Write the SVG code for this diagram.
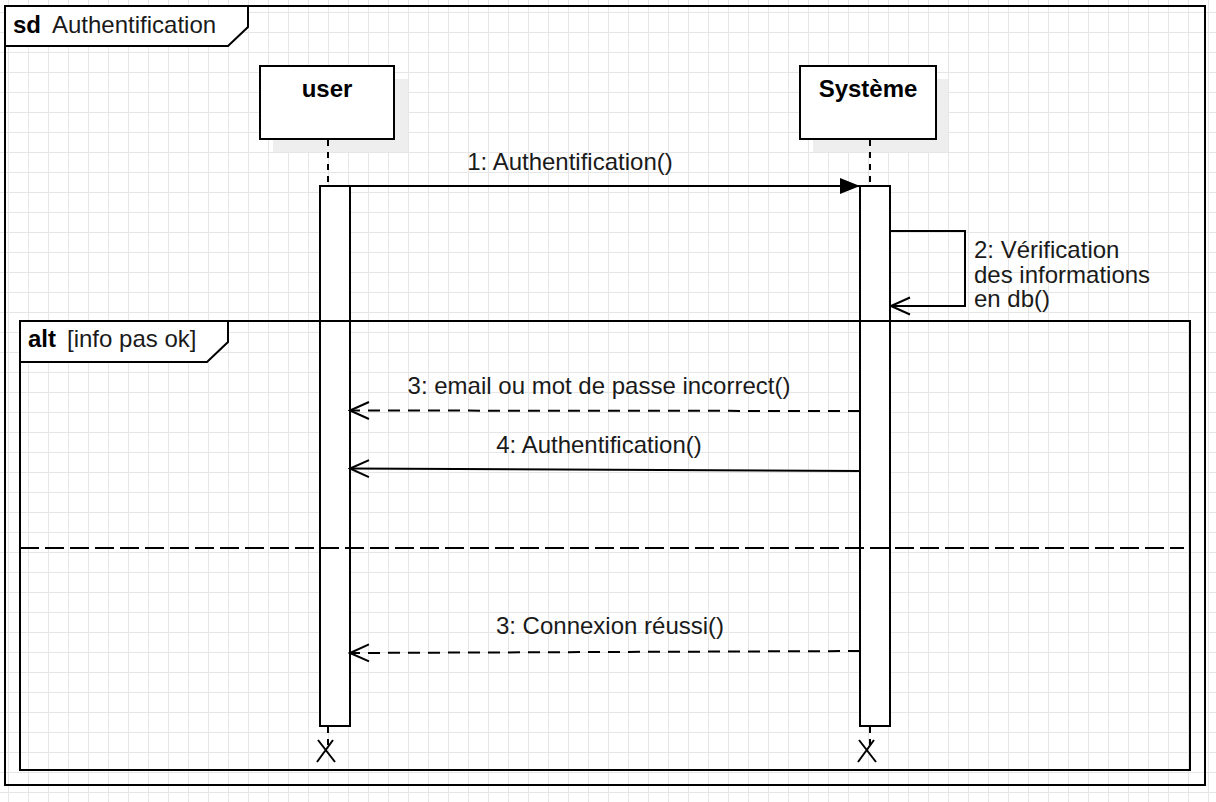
<svg xmlns="http://www.w3.org/2000/svg" width="1216" height="802" viewBox="0 0 1216 802">
  <defs>
    <pattern id="grid" x="8" y="12" width="20" height="20" patternUnits="userSpaceOnUse">
      <path d="M0.5 0 V20 M0 0.5 H20" fill="none" stroke="#e6e6e6" stroke-width="1"/>
    </pattern>
    <marker id="filled" markerWidth="20" markerHeight="16" refX="20" refY="8" orient="auto" markerUnits="userSpaceOnUse">
      <path d="M0 0 L20 8 L0 16 Z" fill="#000"/>
    </marker>
    <marker id="open" markerWidth="22" markerHeight="22" refX="20" refY="11" orient="auto" markerUnits="userSpaceOnUse">
      <path d="M1 2.5 L20 11 L1 19.5" fill="none" stroke="#000" stroke-width="2"/>
    </marker>
  </defs>
  <style>
    .frame { fill: none; stroke: #000; stroke-width: 2; }
    .tab { fill: #fff; stroke: #000; stroke-width: 2; }
    .box { fill: #fff; stroke: #000; stroke-width: 2; }
    .shadow { fill: #eeeeee; }
    .bar { fill: #fff; stroke: #000; stroke-width: 2; }
    .life { stroke: #000; stroke-width: 2; stroke-dasharray: 6 6; fill: none; }
    .msg { stroke: #000; stroke-width: 2; fill: none; }
    .ret { stroke: #000; stroke-width: 2; fill: none; stroke-dasharray: 12 8; }
    .x { stroke: #000; stroke-width: 2; fill: none; }
    .bold { font-family: "Liberation Sans", Arial, sans-serif; font-size: 24px; font-weight: bold; fill: #000; }
    .lbl { font-family: "Liberation Sans", Arial, sans-serif; font-size: 24px; fill: #1a1a1a; }
  </style>
  <rect width="1216" height="802" fill="#fff"/>
  <rect width="1216" height="802" fill="url(#grid)"/>

  <g id="frame-sd">
    <rect class="frame" x="5" y="6" width="1200" height="779"/>
    <path class="tab" d="M5 6 H248 V27 L228 46 H5 Z"/>
    <text class="bold" x="13" y="33">sd</text>
    <text class="lbl" x="52" y="33">Authentification</text>
  </g>

  <g id="user">
    <rect class="shadow" x="273" y="79" width="135" height="73"/>
    <rect class="box" x="260" y="66" width="134" height="73"/>
    <text class="bold" x="327" y="97" text-anchor="middle">user</text>
    <line class="life" x1="328" y1="140" x2="328" y2="186"/>
    <rect class="bar" x="320" y="186" width="30" height="540"/>
    <line class="life" x1="328" y1="727" x2="328" y2="750"/>
    <path class="x" d="M318 740 L335 762 M333 740 L317 762"/>
  </g>

  <g id="systeme">
    <rect class="shadow" x="813" y="79" width="135" height="73"/>
    <rect class="box" x="800" y="66" width="136" height="73"/>
    <text class="bold" x="868" y="97" text-anchor="middle">Système</text>
    <line class="life" x1="870" y1="140" x2="870" y2="186"/>
    <rect class="bar" x="860" y="186" width="30" height="540"/>
    <line class="life" x1="870" y1="727" x2="870" y2="750"/>
    <path class="x" d="M859 740 L876 762 M874 740 L858 762"/>
  </g>

  <g id="alt">
    <rect class="frame" x="20" y="321" width="1170" height="449"/>
    <path class="tab" d="M20 321 H228 V342 L207 362 H20 Z"/>
    <text class="bold" x="28" y="347">alt</text>
    <text class="lbl" x="67" y="347">[info pas ok]</text>
    <line stroke="#000" stroke-width="2" stroke-dasharray="19 6" x1="20" y1="548" x2="1184" y2="548"/>
  </g>

  <g id="connectors">
    <line class="msg" x1="350" y1="186" x2="860" y2="186" marker-end="url(#filled)"/>
    <text class="lbl" x="570" y="170" text-anchor="middle">1: Authentification()</text>

    <path class="msg" d="M890 231 H965 V306 H891" marker-end="url(#open)"/>
    <text class="lbl" x="974" y="258">2: Vérification</text>
    <text class="lbl" x="974" y="283">des informations</text>
    <text class="lbl" x="974" y="307">en db()</text>

    <line class="ret" x1="860" y1="411" x2="350" y2="410.5" marker-end="url(#open)"/>
    <text class="lbl" x="599" y="394" text-anchor="middle">3: email ou mot de passe incorrect()</text>

    <line class="msg" x1="860" y1="471" x2="350" y2="468.5" marker-end="url(#open)"/>
    <text class="lbl" x="599" y="453" text-anchor="middle">4: Authentification()</text>

    <line class="ret" x1="860" y1="651" x2="350" y2="653" marker-end="url(#open)"/>
    <text class="lbl" x="610" y="634" text-anchor="middle">3: Connexion réussi()</text>
  </g>
</svg>
